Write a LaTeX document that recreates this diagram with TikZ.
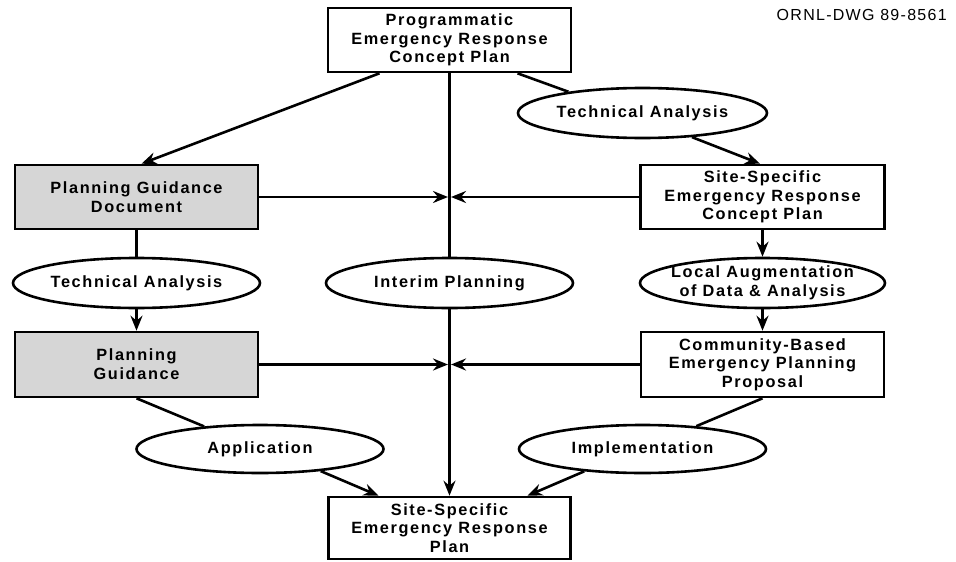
\documentclass[tikz,border=0pt]{standalone}
\usepackage{fontspec}
\newfontfamily\dfont{Liberation Sans}[LetterSpace=10]
\newfontfamily\lfont{Liberation Sans}[LetterSpace=8]
\usetikzlibrary{shapes.geometric,arrows.meta,calc}
\newcommand\dtxt{\dfont\bfseries\fontsize{16.3}{18.7}\selectfont}
\begin{document}
\begin{tikzpicture}[x=1pt,y=-1pt, line width=2.6pt,
  box/.style={draw, rectangle, inner sep=0pt, minimum width=243pt, minimum height=64pt, align=center, font=\dtxt},
  gbox/.style={box, fill=gray!32},
  ell/.style={draw, ellipse, inner sep=0pt, minimum width=247pt, minimum height=50pt},
  lab/.style={font=\dtxt, align=center, inner sep=0pt},
  arr/.style={-{Stealth[length=15pt,width=12pt,inset=5pt]}}
]
\useasboundingbox (0,0) rectangle (956,562);

\node[box] (T) at (449.5,40) {Programmatic\\Emergency Response\\Concept Plan};
\node[font=\lfont\fontsize{16}{18}\selectfont, anchor=east, inner sep=0pt] (DWG) at (948,14.5) {ORNL-DWG 89-8561};

\node[gbox] (PGD) at (136.5,197) {Planning Guidance\\Document};
\node[box, minimum width=244pt] (SSCP) at (762.5,197) {Site-Specific\\Emergency Response\\Concept Plan};
\node[ell, minimum width=249pt, label={[lab]center:Technical Analysis}] (TA1) at (642.5,113) {};

\node[ell, label={[lab]center:Technical Analysis}] (TA2) at (136.5,283) {};
\node[ell, label={[lab]center:Interim Planning}] (IP) at (449.5,283) {};
\node[ell, minimum width=245pt, label={[lab]center:{Local Augmentation\\of Data \& Analysis}}] (LA) at (762.5,283) {};

\node[gbox, minimum height=65pt] (PG) at (136.5,364.5) {Planning\\Guidance};
\node[box, minimum height=65pt] (CB) at (762.5,364.5) {Community-Based\\Emergency Planning\\Proposal};

\node[ell, minimum height=48pt, label={[lab]center:Application}] (APP) at (260,449) {};
\node[ell, minimum height=48pt, label={[lab]center:Implementation}] (IMP) at (642.5,449) {};

\node[box, minimum width=242pt, minimum height=62pt] (B) at (449.5,528) {Site-Specific\\Emergency Response\\Plan};

% connectors
\draw[arr] ([xshift=-70pt]T.south) -- ([xshift=5pt]PGD.north);
\draw ([xshift=68pt]T.south) -- (TA1.164);
\draw[arr] (TA1.334) -- ([xshift=-2.5pt]SSCP.north);
\draw (T.south) -- (IP.north);
\draw[arr] (IP.south) -- (B.north);

\draw[arr, shorten >=1.5pt] (PGD.east) -- (PGD.east -| IP.north);
\draw[arr, shorten >=1.5pt] (SSCP.west) -- (SSCP.west -| IP.north);
\draw (PGD.south) -- (TA2.north);
\draw[arr] (TA2.south) -- (PG.north);
\draw[arr] (SSCP.south) -- (LA.north);
\draw[arr] (LA.south) -- (CB.north);

\draw[arr, shorten >=1.5pt] (PG.east) -- (PG.east -| IP.north);
\draw[arr, shorten >=1.5pt] (CB.west) -- (CB.west -| IP.north);
\draw (PG.south) -- (APP.158);
\draw[arr] (APP.340) -- ([xshift=-71pt]B.north);
\draw (CB.south) -- (IMP.23);
\draw[arr] (IMP.201) -- ([xshift=78pt]B.north);
\end{tikzpicture}
\end{document}
